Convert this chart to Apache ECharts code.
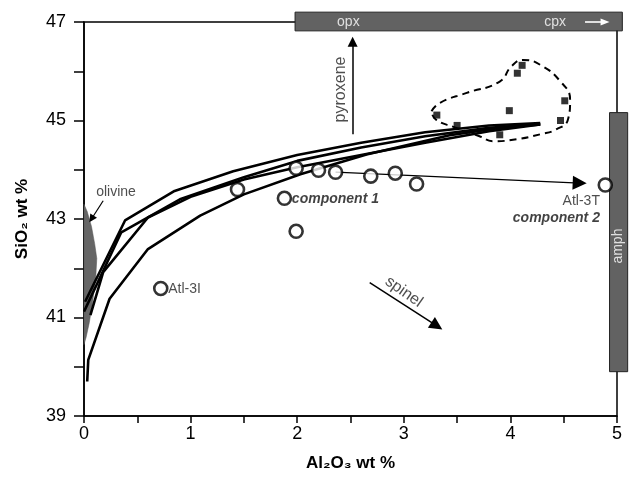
<!DOCTYPE html>
<html><head><meta charset="utf-8">
<script src="https://cdn.jsdelivr.net/npm/echarts@6/dist/echarts.min.js"></script>
<style>html,body{margin:0;padding:0;background:#fff}#c{width:630px;height:477px}</style>
</head><body><div id="c"></div>
<script>
// ---- data ----
const xTicks = [0, 1, 2, 3, 4, 5];
const yTicks = [39, 41, 43, 45, 47];
// model curves
const curve1 = [[0.01,41.32],[0.385,42.97],[0.85,43.57],[1.4,43.97],[2.0,44.3],[2.6,44.55],[3.2,44.76],[3.8,44.9],[4.28,44.95]];
const curve2 = [[0.0,41.12],[0.35,42.73],[0.9,43.4],[1.5,43.85],[2.0,44.18],[2.6,44.45],[3.2,44.68],[3.8,44.85],[4.28,44.93]];
const curve3 = [[0.06,41.05],[0.18,41.92],[0.60,43.03],[1.0,43.45],[1.5,43.8],[2.0,44.05],[2.6,44.3],[3.2,44.55],[3.8,44.78],[4.28,44.92]];
const curve4 = [[0.03,39.7],[0.04,40.14],[0.24,41.38],[0.60,42.39],[1.09,43.07],[1.5,43.5],[2.03,43.91],[2.65,44.31],[3.43,44.7],[3.9,44.85],[4.28,44.92]];
// open circles (samples)
const circles = [[1.44,43.6],[1.99,44.03],[2.20,43.99],[2.36,43.95],[2.69,43.87],[2.92,43.93],[3.12,43.71],[1.88,43.42],[1.99,42.75],[0.72,41.59],[4.89,43.69]];
// filled squares (pyroxenes)
const squares = [[4.11,46.12],[4.065,45.96],[3.31,45.11],[3.99,45.20],[4.51,45.40],[4.47,45.0],[3.50,44.90],[3.90,44.71]];
// dashed field outline
const field = [[3.26,45.19],[3.34,45.36],[3.59,45.56],[3.90,45.79],[4.01,46.10],[4.12,46.23],[4.28,46.13],[4.47,45.79],[4.56,45.42],[4.54,45.02],[4.43,44.82],[4.28,44.72],[4.06,44.62],[3.84,44.58],[3.71,44.68],[3.48,44.86],[3.30,45.02],[3.26,45.19]];
// olivine field
const oliX = [0, 0.03, 0.07, 0.10, 0.12, 0.11, 0.08, 0.05, 0.02, 0];
const oliY = [43.3, 43.15, 42.85, 42.5, 42.2, 41.8, 41.3, 40.9, 40.6, 40.45];
// mineral bars [x0, x1, y0, y1]
const bars = [[1.98, 5.05, 46.82, 47.2], [4.93, 5.1, 39.9, 45.16]];
// arrows [x0,y0,x1,y1]
const arrowMix = [2.36, 43.95, 4.65, 43.73];
const arrowPyx = [2.52, 44.72, 2.52, 46.6];
const arrowSpl = [2.68, 41.71, 3.31, 40.83];
const arrowOl  = [0.18, 43.37, 0.07, 43.0];
const arrowCpx = [4.70, 47.0, 4.93, 47.0];
// labels
const plainLabels = [['olivine',0.30,43.55,'center'],['Atl-3I',0.79,41.57,'left'],['Atl-3T',4.84,43.37,'right']];
const boldLabels = [['component 1',1.95,43.40,'left'],['component 2',4.84,43.02,'right']];
const whiteLabels = [['opx',2.48,47.0,0],['cpx',4.42,47.0,0],['amph',5.015,42.45,90]];
const rotLabels = [['pyroxene',2.41,45.63,90],['spinel',3.00,41.52,-35]];

const FONT = 'Liberation Sans, Arial, Helvetica, sans-serif';
const chart = echarts.init(document.getElementById('c'), null, {renderer:'canvas'});

function lineSeries(pts, z){
  return {type:'line', data:pts, symbol:'none', z:z||3, lineStyle:{color:'#000', width:2.6}, silent:true, animation:false};
}
function arrowSeries(a, width, size, color, z){
  return {type:'line', data:[], z:z||6, silent:true, clip:false,
    markLine:{silent:true, animation:false, symbol:['none','triangle'], symbolSize:size,
      lineStyle:{color:color||'#000', width:width, type:'solid'}, label:{show:false},
      data:[[{coord:[a[0],a[1]]},{coord:[a[2],a[3]]}]]}};
}
function labelSeries(items, style, z){
  return {type:'scatter', symbolSize:0, z:z||8, silent:true, clip:false,
    data: items.map(d=>({name:d[0], value:[d[1],d[2]], label:{align: typeof d[3]==='string'?d[3]:'center', rotate: typeof d[3]==='number'?d[3]:0}})),
    label:Object.assign({show:true, position:'inside', formatter:p=>p.name, verticalAlign:'middle', fontFamily:FONT}, style)};
}

const option = {
  animation:false,
  backgroundColor:'#fff',
  grid:{left:84, right:13, top:22, bottom:59, show:true, borderColor:'#000', borderWidth:1.5},
  xAxis:{type:'value', min:0, max:5, interval:0.5,
    axisLine:{show:true, onZero:false, lineStyle:{color:'#000', width:1.5}},
    axisTick:{show:true, length:7, lineStyle:{color:'#000', width:1.5}},
    splitLine:{show:false},
    axisLabel:{color:'#000', fontSize:18, margin:9, fontFamily:FONT,
      formatter:v=> xTicks.indexOf(v)>=0 ? String(v) : ''},
    name:'Al₂O₃ wt %', nameLocation:'middle', nameGap:39,
    nameTextStyle:{color:'#000', fontSize:17, fontWeight:'bold', fontFamily:FONT}},
  yAxis:{type:'value', min:39, max:47, interval:1,
    axisLine:{show:true, onZero:false, lineStyle:{color:'#000', width:1.5}},
    axisTick:{show:true, length:10, lineStyle:{color:'#000', width:1.5}},
    splitLine:{show:false},
    axisLabel:{color:'#000', fontSize:18, margin:18, fontFamily:FONT,
      formatter:v=> yTicks.indexOf(v)>=0 ? String(v) : ''},
    name:'SiO₂ wt %', nameLocation:'middle', nameGap:53,
    nameTextStyle:{color:'#000', fontSize:17, fontWeight:'bold', fontFamily:FONT}},
  series:[
    {type:'custom', z:2, silent:true, clip:false, data:[[0]],
      renderItem:(params, api)=>({type:'polygon',
        shape:{points: oliX.map((x,i)=>api.coord([x, oliY[i]]))},
        style:{fill:'#666', stroke:'#555', lineWidth:0.5}})},
    lineSeries(curve1), lineSeries(curve2), lineSeries(curve3), lineSeries(curve4),
    {type:'line', data:field, smooth:0.5, symbol:'none', z:4, silent:true,
      lineStyle:{color:'#000', width:2, type:[7,5]}},
    arrowSeries(arrowMix, 1.2, 14),
    arrowSeries(arrowPyx, 1.5, 10),
    arrowSeries(arrowSpl, 1.5, 13),
    arrowSeries(arrowOl, 1.2, 8),
    {type:'custom', z:7, silent:true, clip:false, data:bars,
      renderItem:(params, api)=>{
        const p0 = api.coord([api.value(0), api.value(3)]);
        const p1 = api.coord([api.value(1), api.value(2)]);
        return {type:'rect', shape:{x:p0[0], y:p0[1], width:p1[0]-p0[0], height:p1[1]-p0[1]},
          style:{fill:'#626262', stroke:'#222', lineWidth:1}};
      }},
    {type:'custom', z:9, silent:true, clip:false, data:[arrowCpx],
      renderItem:(params, api)=>{
        const p0 = api.coord([api.value(0), api.value(1)]);
        const p1 = api.coord([api.value(2), api.value(3)]);
        return {type:'group', children:[
          {type:'line', shape:{x1:p0[0], y1:p0[1], x2:p1[0]-7, y2:p1[1]}, style:{stroke:'#fff', lineWidth:1.6}},
          {type:'polygon', shape:{points:[[p1[0],p1[1]],[p1[0]-9,p1[1]-3.5],[p1[0]-9,p1[1]+3.5]]}, style:{fill:'#fff'}}
        ]};
      }},
    {type:'scatter', data:squares, symbol:'rect', symbolSize:7, z:9, silent:true,
      itemStyle:{color:'#000'}},
    {type:'scatter', data:circles, symbol:'circle', symbolSize:13, z:10, silent:true,
      itemStyle:{color:'#fff', borderColor:'#000', borderWidth:2.6}},
    labelSeries(plainLabels, {color:'#222', fontSize:14}),
    labelSeries(boldLabels, {color:'#111', fontSize:14, fontWeight:'bold', fontStyle:'italic'}),
    labelSeries(whiteLabels, {color:'#fff', fontSize:14}, 10),
    labelSeries(rotLabels, {color:'#222', fontSize:16})
  ]
};
chart.setOption(option);
</script></body></html>
